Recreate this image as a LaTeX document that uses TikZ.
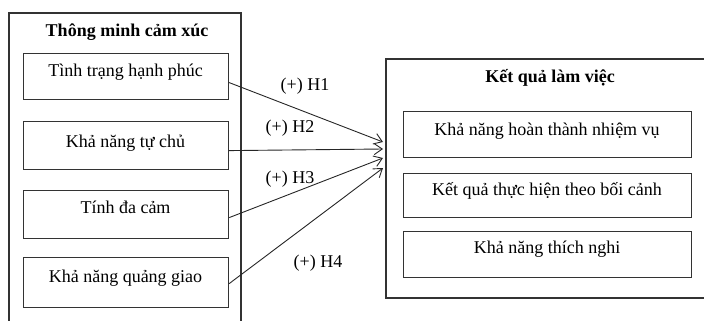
\documentclass[tikz,border=0pt]{standalone}
\usepackage{fontspec}
\setmainfont{Liberation Serif}
\usetikzlibrary{arrows.meta}
\begin{document}
\begin{tikzpicture}[x=1pt,y=-1pt,
  frame/.style={draw=black!80, line width=1.2pt},
  boxnode/.style={frame, rectangle, minimum width=#1, inner sep=0pt, anchor=north west},
  txt/.style={anchor=base, font=\fontsize{18}{21}\selectfont, inner sep=0pt},
  ttl/.style={anchor=base, font=\fontsize{18}{21}\selectfont\bfseries, inner sep=0pt},
  link/.style={draw=black!85, line width=0.9pt, -{Straight Barb[length=8pt,width=11pt]}},
  lbl/.style={anchor=base, font=\fontsize{18}{21}\selectfont, inner sep=0pt},
]
\useasboundingbox (0,0) rectangle (704,321);
\clip (0,0) rectangle (704,321);

% outer frames
\draw[frame] (9,330) -- (9,13) -- (241,13) -- (241,330);
\draw[frame] (720,59) -- (386,59) -- (386,298) -- (720,298);

% titles
\node[ttl] (LT) at (127,37) {Thông minh cảm xúc};
\node[ttl] (RT) at (550,82) {Kết quả làm việc};

% left boxes
\node[boxnode=205pt, minimum height=46pt] (L1) at (23,53) {};
\node[boxnode=205pt, minimum height=48pt] (L2) at (23,121) {};
\node[boxnode=205pt, minimum height=48pt] (L3) at (23,190) {};
\node[boxnode=205pt, minimum height=50pt] (L4) at (23,257) {};
\node[txt] (L1t) at (125.5,77) {Tình trạng hạnh phúc};
\node[txt] (L2t) at (125.5,147) {Khả năng tự chủ};
\node[txt] (L3t) at (125.5,213) {Tính đa cảm};
\node[txt] (L4t) at (125.5,282) {Khả năng quảng giao};

% right boxes
\node[boxnode=288pt, minimum height=46pt] (R1) at (403,111) {};
\node[boxnode=288pt, minimum height=44pt] (R2) at (403,173) {};
\node[boxnode=288pt, minimum height=46pt] (R3) at (403,231) {};
\node[txt] (R1t) at (547,135) {Khả năng hoàn thành nhiệm vụ};
\node[txt] (R2t) at (547,195) {Kết quả thực hiện theo bối cảnh};
\node[txt] (R3t) at (547,253) {Khả năng thích nghi};

% arrow targets
\coordinate (T1) at (383,142);
\coordinate (T2) at (383,149);
\coordinate (T3) at (383,158);
\coordinate (T4) at (383,168);

\draw[link] ([yshift=-6pt]L1.east) -- (T1);
\draw[link] ([yshift=-5pt]L2.east) -- (T2);
\draw[link] ([yshift=-3pt]L3.east) -- (T3);
\draw[link] ([yshift=-1pt]L4.east) -- (T4);

% labels
\node[lbl] (H1) at (305,90) {(+) H1};
\node[lbl] (H2) at (290,132) {(+) H2};
\node[lbl] (H3) at (290,183) {(+) H3};
\node[lbl] (H4) at (318,267) {(+) H4};
\end{tikzpicture}
\end{document}
